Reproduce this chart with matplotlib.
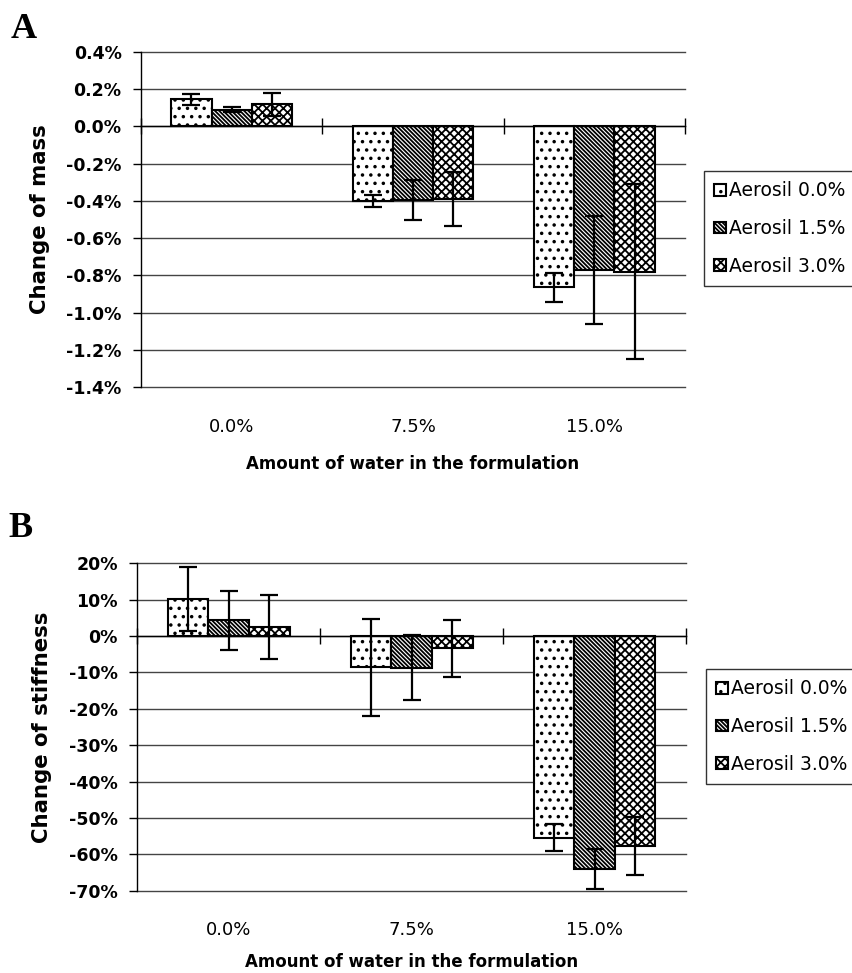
import numpy as np
import matplotlib
matplotlib.use("Agg")
import matplotlib.pyplot as plt
from matplotlib.ticker import MultipleLocator, FuncFormatter

# data (values in %)
water = ["0.0%", "7.5%", "15.0%"]
series = ["Aerosil 0.0%", "Aerosil 1.5%", "Aerosil 3.0%"]

mass_a00 = [0.145, -0.40, -0.865]
mass_a15 = [0.091, -0.395, -0.77]
mass_a30 = [0.118, -0.39, -0.78]
mass_err_a00 = [0.028, 0.034, 0.08]
mass_err_a15 = [0.013, 0.105, 0.29]
mass_err_a30 = [0.062, 0.145, 0.47]

stiff_a00 = [10.3, -8.6, -55.4]
stiff_a15 = [4.3, -8.7, -64.0]
stiff_a30 = [2.5, -3.4, -57.7]
stiff_err_a00 = [8.8, 13.3, 3.8]
stiff_err_a15 = [8.2, 9.0, 5.5]
stiff_err_a30 = [8.9, 7.9, 8.0]

hatches = ["..", "\\" * 8, "xxxx"]

plt.rcParams['font.family'] = ['DejaVu Sans']
plt.rcParams['hatch.linewidth'] = 1.3


def panel(ax, vals, errs, ylim, step, fmt, ylabel, label_x, leg_xy, xlabelpad):
    x = np.arange(len(water))
    w = 0.222
    for i, (v, e) in enumerate(zip(vals, errs)):
        ax.bar(x + (i - 1) * w, v, w, color="white", edgecolor="black",
               linewidth=1.5, hatch=hatches[i], label=series[i], zorder=2)
        ax.errorbar(x + (i - 1) * w, v, yerr=e, fmt="none", ecolor="black",
                    elinewidth=1.6, capsize=6.5, capthick=1.6, zorder=3)

    ax.set_xlim(-0.5, len(water) - 0.5)
    ax.set_ylim(*ylim)
    ax.yaxis.set_major_locator(MultipleLocator(step))
    ax.yaxis.set_major_formatter(FuncFormatter(lambda v, p: fmt.format(round(v, 1) + 0.0)))
    ax.grid(axis="y", color="#444444", linewidth=1.0, zorder=0)
    ax.set_axisbelow(True)
    for s in ["top", "right"]:
        ax.spines[s].set_visible(False)
    ax.spines["left"].set_linewidth(1.0)
    ax.tick_params(axis="y", direction="out", length=6, width=1, pad=8,
                   labelsize=12.5)
    for t in ax.get_yticklabels():
        t.set_fontweight("bold")

    # category axis on the zero line
    ax.spines["bottom"].set_position(("data", 0))
    ax.spines["bottom"].set_linewidth(1.0)
    ax.set_xticks(np.arange(len(water) + 1) - 0.5)
    ax.tick_params(axis="x", direction="inout", length=12, width=1,
                   labelbottom=False)

    sec = ax.secondary_xaxis(0.0)
    sec.set_xticks(x, water)
    sec.tick_params(length=0, pad=22, labelsize=13)
    sec.spines["bottom"].set_visible(False)
    sec.set_xlabel("Amount of water in the formulation", fontsize=12,
                   fontweight="bold", labelpad=xlabelpad)

    ax.set_ylabel(ylabel, fontsize=15.3, fontweight="bold")
    ax.yaxis.set_label_coords(label_x, 0.5)

    leg = ax.legend(loc="upper left", bbox_to_anchor=leg_xy,
                    bbox_transform=ax.figure.transFigure, borderaxespad=0,
                    fontsize=13.5, frameon=True, fancybox=False,
                    handlelength=0.6, handleheight=0.6, handletextpad=0.2,
                    labelspacing=1.0, borderpad=0.55)
    leg.get_frame().set_edgecolor("black")
    leg.get_frame().set_linewidth(1.0)


fig = plt.figure(figsize=(8.53, 9.73), dpi=100)

axA = fig.add_axes([141 / 853, 1 - 387 / 973, 544 / 853, 335 / 973])
panel(axA, [mass_a00, mass_a15, mass_a30],
      [mass_err_a00, mass_err_a15, mass_err_a30],
      (-1.4, 0.4), 0.2, "{:.1f}%", "Change of mass", -0.167,
      (704 / 853, 1 - 171 / 973), 14)

axB = fig.add_axes([137.3 / 853, 1 - 890.7 / 973, 548.7 / 853, 327.4 / 973])
panel(axB, [stiff_a00, stiff_a15, stiff_a30],
      [stiff_err_a00, stiff_err_a15, stiff_err_a30],
      (-70, 20), 10, "{:.0f}%", "Change of stiffness", -0.155,
      (706 / 853, 1 - 669 / 973), 10)

fig.canvas.draw()
for ax in (axA, axB):
    for gl in ax.get_ygridlines():
        gl.set_clip_on(False)

fig.text(11 / 853, 1 - 38 / 973, "A", family="Liberation Serif",
         fontweight="bold", fontsize=26)
fig.text(8 / 853, 1 - 537 / 973, "B", family="Liberation Serif",
         fontweight="bold", fontsize=26)

fig.savefig("out.png", dpi=100, facecolor="white")
